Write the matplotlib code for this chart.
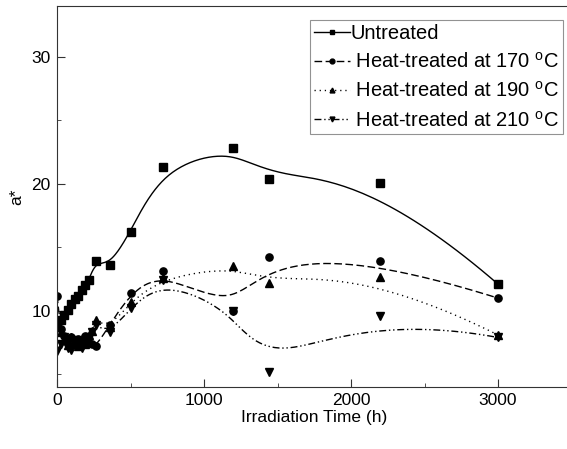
import numpy as np
import matplotlib
matplotlib.use("Agg")
from matplotlib import pyplot as plt

# irradiation times (h) and a* values
t_untreated = [0, 24, 48, 72, 96, 120, 144, 168, 192, 216, 264, 360,
               500, 720, 1200, 1440, 2200, 3000]
a_untreated = [8.8, 9.3, 9.7, 10.1, 10.5, 10.9, 11.2, 11.6, 12.0, 12.4, 13.9, 13.6,
               16.2, 21.3, 22.8, 20.4, 20.1, 12.1]

t_heat = [0, 24, 48, 72, 96, 120, 144, 168, 192, 216, 240, 264, 360,
          500, 720, 1200, 1440, 2200, 3000]
a_170 = [11.2, 8.6, 8.0, 7.6, 7.9, 7.4, 7.8, 7.6, 8.0, 7.5, 7.4, 7.2, 8.9,
         11.4, 13.1, 10.0, 14.2, 13.9, 11.0]
a_190 = [9.0, 8.3, 7.7, 7.3, 7.9, 7.5, 7.2, 7.8, 7.4, 8.1, 8.4, 9.3, 8.7,
         10.7, 12.6, 13.5, 12.2, 12.7, 8.1]
a_210 = [6.8, 7.4, 7.9, 7.1, 6.9, 7.7, 7.4, 7.1, 7.5, 7.9, 8.3, 8.9, 8.3,
         10.2, 12.4, 10.0, 5.2, 9.6, 7.9]

labels = ["Untreated",
          " Heat-treated at 170 $^\\mathregular{o}$C",
          " Heat-treated at 190 $^\\mathregular{o}$C",
          " Heat-treated at 210 $^\\mathregular{o}$C"]


def bspline(x, y, n=600, k=3):
    # clamped cubic B-spline, data points used as control points (Origin style)
    P = np.column_stack([x, y]).astype(float)
    m = len(P)
    knots = np.concatenate([np.zeros(k), np.linspace(0, 1, m - k + 1), np.ones(k)])
    u = np.linspace(0, 1, n)
    N = np.zeros((n, len(knots) - 1))
    for i in range(len(knots) - 1):
        N[:, i] = (knots[i] <= u) & (u < knots[i + 1])
    last = np.max(np.nonzero(knots[:-1] < knots[1:])[0])
    N[u >= 1, last] = 1
    for p in range(1, k + 1):
        Nn = np.zeros((n, len(knots) - 1 - p))
        for i in range(len(knots) - 1 - p):
            d1 = knots[i + p] - knots[i]
            d2 = knots[i + p + 1] - knots[i + 1]
            if d1 > 0:
                Nn[:, i] += (u - knots[i]) / d1 * N[:, i]
            if d2 > 0:
                Nn[:, i] += (knots[i + p + 1] - u) / d2 * N[:, i + 1]
        N = Nn
    C = N @ P
    return C[:, 0], C[:, 1]


plt.rcParams['font.family'] = ['Liberation Sans', 'DejaVu Sans']
fig = plt.figure(figsize=(5.67, 4.49), dpi=100)
ax = fig.add_axes([57 / 567, 62 / 449, 514.5 / 567, 381 / 449])

series = [(t_untreated, a_untreated, "s", "-"),
          (t_heat, a_170, "o", (0, (5.5, 2.5))),
          (t_heat, a_190, "^", (0, (0.9, 2.8))),
          (t_heat, a_210, "v", (0, (5, 2, 1, 2, 1, 2)))]

for (t, a, m, ls), lab in zip(series, labels):
    cx, cy = bspline(t, a)
    ax.plot(cx, cy, color="black", lw=1.0, ls=ls)
    ax.plot(t, a, ls="none", marker=m, ms=5.2, color="black")
    ax.plot([], [], color="black", lw=1.0, ls=ls, marker=m, ms=3.5, label=lab)

ax.set_xlim(0, 3500)
ax.set_ylim(4, 34)
ax.set_xticks([0, 1000, 2000, 3000])
ax.set_xticks([500, 1500, 2500], minor=True)
ax.set_yticks([10, 20, 30])
ax.set_yticks([5, 15, 25], minor=True)
ax.tick_params(which="both", direction="in", labelsize=12.5, colors="#333333",
               labelcolor="black", pad=4.5)
ax.tick_params(which="major", length=6)
ax.tick_params(which="minor", length=3)
for s in ax.spines.values():
    s.set_color("#333333")
ax.spines["right"].set_visible(False)
ax.set_xlabel("Irradiation Time (h)", fontsize=12.5, labelpad=1)
ax.set_ylabel("a*", fontsize=12.5, labelpad=5)

leg = ax.legend(loc="upper right", bbox_to_anchor=(563 / 567, 1 - 20 / 449),
                bbox_transform=fig.transFigure, fontsize=14.5, frameon=True,
                fancybox=False, edgecolor="#777777", handlelength=1.8,
                handletextpad=0.0, labelspacing=0.45, borderpad=0.2,
                borderaxespad=0)
leg.get_frame().set_linewidth(0.8)

fig.savefig("out.png", dpi=100)
